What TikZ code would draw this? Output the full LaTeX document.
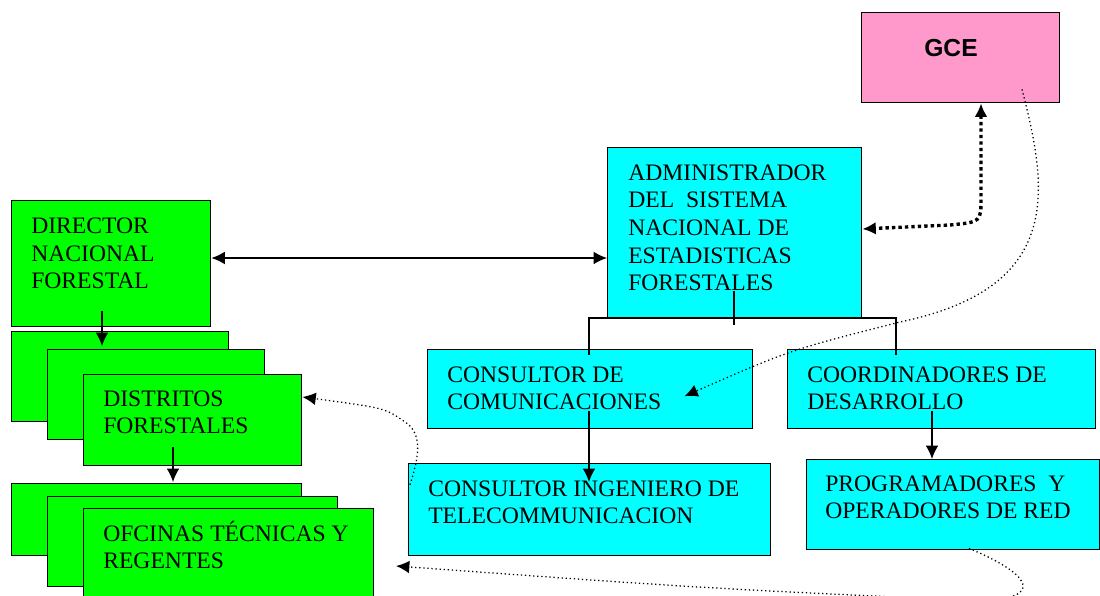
\documentclass[tikz,border=0pt]{standalone}
\usepackage{fontspec}
\setmainfont{Liberation Serif}
\newfontfamily\gcefont{Liberation Sans}
\usetikzlibrary{positioning,calc,arrows.meta}

\definecolor{orgGreen}{RGB}{0,255,0}
\definecolor{orgCyan}{RGB}{0,255,255}
\definecolor{orgPink}{RGB}{255,153,204}

\begin{document}
\begin{tikzpicture}[x=0.025cm, y=-0.025cm]
	\tikzset{
		box/.style 2 args={draw, line width=1pt, rectangle, inner sep=0pt, anchor=north west,
			minimum width=#1*0.025cm, minimum height=#2*0.025cm},
		% multi-line text: base is the last line
		txt/.style={anchor=base west, align=left, inner sep=0pt, font=\fontsize{16.8}{19.7}\selectfont},
		tip/.style={Latex[length=9.5pt, width=9pt]},
		arr/.style={line width=0.9pt, -{Latex[length=9.5pt, width=9pt]}},
		link/.style={line width=0.9pt, dotted, -{Latex[length=9.5pt, width=9pt]}},
	}
	\useasboundingbox (0,0) rectangle (1100,596);

	% GCE
	\node[box={198}{90}, fill=orgPink] (gce) at (861,12) {};
	\node[font=\gcefont\bfseries\fontsize{17.5}{20}\selectfont, inner sep=0pt] (gcetxt) at (951,48) {GCE};

	% administrador
	\node[box={254}{170}, fill=orgCyan] (adm) at (607,147) {};
	\node[txt] (admtxt) at (628,291) {ADMINISTRADOR\\DEL\ \ SISTEMA\\NACIONAL DE\\ESTADISTICAS\\FORESTALES};

	% director
	\node[box={199}{126}, fill=orgGreen] (dir) at (11,200) {};
	\node[txt] (dirtxt) at (31,289) {DIRECTOR\\NACIONAL\\FORESTAL};

	% distritos
	\node[box={217}{90}, fill=orgGreen] (dis1) at (11,331) {};
	\node[box={217}{90}, fill=orgGreen] (dis2) at (47,349) {};
	\node[box={218}{91}, fill=orgGreen] (dis3) at (83,374) {};
	\node[txt] (distxt) at (103,434) {DISTRITOS\\FORESTALES};

	% oficinas
	\node[box={290}{72}, fill=orgGreen] (ofi1) at (11,483) {};
	\node[box={290}{90}, fill=orgGreen] (ofi2) at (47,496) {};
	\node[box={290}{110}, fill=orgGreen] (ofi3) at (83,508) {};
	\node[txt] (ofitxt) at (103,569) {OFCINAS TÉCNICAS Y\\REGENTES};

	% consultores y coordinadores
	\node[box={325}{79}, fill=orgCyan] (cc) at (427,349) {};
	\node[txt] (cctxt) at (447,410) {CONSULTOR DE\\COMUNICACIONES};
	\node[box={308}{79}, fill=orgCyan] (co) at (787,349) {};
	\node[txt] (cotxt) at (807,410) {COORDINADORES DE\\DESARROLLO};
	\node[box={362}{92}, fill=orgCyan] (ci) at (408,463) {};
	\node[txt] (citxt) at (428,524) {CONSULTOR INGENIERO DE\\TELECOMMUNICACION};
	\node[box={293}{90}, fill=orgCyan] (pr) at (806,459) {};
	\node[txt] (prtxt) at (825,519) {PROGRAMADORES\ \ Y\\OPERADORES DE RED};

	% solid connectors
	\draw[line width=0.9pt, {Latex[length=9.5pt, width=9pt]}-{Latex[length=9.5pt, width=9pt]}]
		(dir.east |- 0,258) -- (adm.west |- 0,258);
	\draw[arr] ($(dir.south -| 102,0)+(0,-16)$) -- ($(dis1.north -| 102,0)+(0,15)$);
	\draw[arr] ($(dis3.south -| 173,0)+(0,-19)$) -- ($(ofi1.north -| 173,0)+(0,-1)$);
	\draw[line width=0.9pt] ($(adm.south -| 734,0)+(0,-27)$) -- ($(adm.south -| 734,0)+(0,7)$);
	\draw[line width=0.9pt] ($(cc.north -| 589,0)+(0,6)$) -- (589,318) -- (896,318) -- ($(co.north -| 896,0)+(0,6)$);
	\draw[arr] ($(cc.south -| 589,0)+(0,-18)$) -- ($(ci.north -| 589,0)+(0,19)$);
	\draw[arr] ($(co.south -| 932,0)+(0,-18)$) -- (pr.north -| 932,0);

	% dotted links
	\draw[line width=2.4pt, dash pattern=on 2.4pt off 2.2pt, {Latex[length=9.5pt, width=9pt]}-{Latex[length=9.5pt, width=9pt]}]
		(gce.south -| 981,0) -- (981,198) .. controls (981,222) .. (950,225) -- (adm.east |- 0,229);
	\draw[link] ($(gce.south -| 1022,0)+(0,-14)$) .. controls (1048,190) and (1064,288) .. (900,322)
		.. controls (790,350) .. ($(cc.east)+(-69,7)$);
	\draw[link] ($(ci.west)+(2,-25)$) .. controls (418,460) and (424,434) .. (405,422)
		.. controls (385,408) .. (dis3.east |- 0,397);
	\draw[link] ($(pr.south -| 969,0)+(0,-2)$) .. controls (1045,580) and (1040,604) .. (960,600)
		.. controls (700,588) .. (396,566);
\end{tikzpicture}
\end{document}
